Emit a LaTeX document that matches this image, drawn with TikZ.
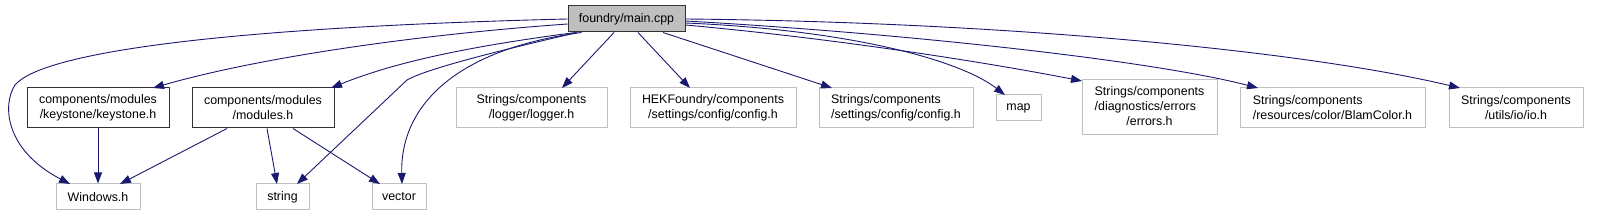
\documentclass[tikz,border=0pt]{standalone}
\usepackage{fontspec}
\setmainfont{Liberation Sans}
\usetikzlibrary{arrows.meta}
\definecolor{edgeblue}{HTML}{191970}
\definecolor{boxgrey}{HTML}{BFBFBF}
\tikzset{
  filebox/.style={draw=boxgrey, line width=1pt, fill=white, inner sep=0pt, font=\fontsize{12.4}{15}\selectfont, align=center},
  docbox/.style={filebox, draw=black!80},
  mainbox/.style={filebox, draw=black!80, fill=boxgrey},
  dep/.style={draw=edgeblue, line width=0.9pt, -{Triangle[length=11pt,width=8pt]}},
}
\begin{document}
\begin{tikzpicture}[x=1pt,y=-1pt]
\path[use as bounding box] (0,0) rectangle (1606,216);
\node[mainbox, minimum width=117pt, minimum height=26pt] (main) at (626.5,19) {foundry/main.cpp};
\node[docbox, minimum width=142pt, minimum height=40pt] (keystone) at (98,108) {components/modules\\/keystone/keystone.h};
\node[docbox, minimum width=142pt, minimum height=40pt] (modules) at (263,108) {components/modules\\/modules.h};
\node[filebox, minimum width=151pt, minimum height=40pt] (logger) at (531.5,108) {Strings/components\\/logger/logger.h};
\node[filebox, minimum width=166pt, minimum height=40pt] (hek) at (713,108) {HEKFoundry/components\\/settings/config/config.h};
\node[filebox, minimum width=154pt, minimum height=40pt, align=left] (sconf) at (896,108) {Strings/components\\/settings/config/config.h};
\node[filebox, minimum width=45pt, minimum height=26pt] (map) at (1018.5,108) {map};
\node[filebox, minimum width=135pt, minimum height=55pt] (errors) at (1149.5,107.5) {\begin{tabular}{@{}l@{}}Strings/components\\/diagnostics/errors\\\multicolumn{1}{@{}c@{}}{/errors.h}\end{tabular}};
\node[filebox, minimum width=185pt, minimum height=40pt, align=left] (blam) at (1332.5,108) {Strings/components\\/resources/color/BlamColor.h};
\node[filebox, minimum width=134pt, minimum height=40pt] (io) at (1516,108) {Strings/components\\/utils/io/io.h};
\node[filebox, minimum width=84pt, minimum height=26pt] (windows) at (98,197) {Windows.h};
\node[filebox, minimum width=53pt, minimum height=26pt] (string) at (282.5,197) {string};
\node[filebox, minimum width=54pt, minimum height=26pt] (vector) at (399,197) {vector};

\coordinate (wt) at (70,184);
\coordinate (kt) at (153,88);
\coordinate (mt) at (331,88);
\coordinate (st) at (297,184);
\coordinate (vt) at (402,184);
\coordinate (lt) at (562,88);
\coordinate (ht) at (690,88);
\coordinate (ct) at (832,88);
\coordinate (pt) at (1005,95);
\coordinate (et) at (1082,81);
\coordinate (bt) at (1258,88);
\coordinate (it) at (1460,88);

\draw[dep] (main.west) .. controls (200,28) and (40,55) .. (15,85) .. controls (2,105) and (5,150) .. (wt);
\draw[dep] ([yshift=-5pt]main.west) .. controls (400,36) and (250,60) .. (kt);
\draw[dep] ([xshift=8pt]main.south west) .. controls (480,45) and (400,60) .. (mt);
\draw[dep] ([xshift=10pt]main.south west) .. controls (480,55) and (425,70) .. (407,80) -- (st);
\draw[dep] ([xshift=14pt]main.south west) .. controls (450,50) and (400,110) .. (vt);
\draw[dep] ([xshift=-12.5pt]main.south) -- (lt);
\draw[dep] ([xshift=11.5pt]main.south) -- (ht);
\draw[dep] ([xshift=36.5pt]main.south) -- (ct);
\draw[dep] ([yshift=-4pt]main.east) .. controls (850,30) and (960,60) .. (pt);
\draw[dep] ([yshift=-6pt]main.east) .. controls (850,40) and (1000,65) .. (et);
\draw[dep] ([yshift=-2pt]main.east) .. controls (900,33) and (1150,60) .. (bt);
\draw[dep] ([yshift=0pt]main.east) .. controls (1000,22) and (1300,50) .. (it);
\draw[dep] (keystone.south) -- (windows.north);
\draw[dep] ([xshift=-36pt]modules.south) -- (120,184);
\draw[dep] ([xshift=4pt]modules.south) -- (277,184);
\draw[dep] ([xshift=30pt]modules.south) -- (380,184);
\end{tikzpicture}
\end{document}
